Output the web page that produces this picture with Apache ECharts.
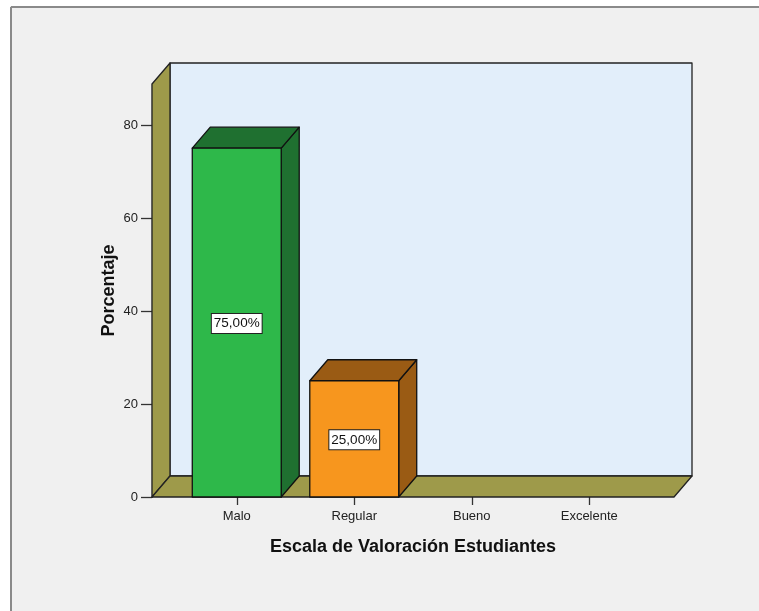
<!DOCTYPE html>
<html>
<head>
<meta charset="utf-8">
<script src="https://cdn.jsdelivr.net/npm/echarts@6/dist/echarts.min.js"></script>
<style>
  html, body { margin: 0; padding: 0; background: #ffffff; }
  #chart { width: 759px; height: 611px; }
</style>
</head>
<body>
<div id="chart"></div>
<script>
// datos
var categorias = ['Malo', 'Regular', 'Bueno', 'Excelente'];
var porcentajes = [75, 25, 0, 0];
var ticksY = [0, 20, 40, 60, 80];

var frente = ['#2eb84a', '#f7961e'];
var oscuro = ['#1f7030', '#9a5b14'];

// profundidad del efecto 3D
var DX = 18, DY = -21;

var chart = echarts.init(document.getElementById('chart'));

function paredes(params, api) {
    var cs = params.coordSys;
    var y0 = api.coord([0, 0])[1];
    var yTop = cs.y;
    var x0 = cs.x - 26;
    var x1 = cs.x + cs.width + 26;
    var linea = { stroke: '#222', lineWidth: 1.3, lineJoin: 'round' };
    return {
        type: 'group',
        children: [
            { type: 'rect', shape: { x: x0 + DX, y: yTop + DY, width: x1 - x0, height: y0 - yTop },
              style: Object.assign({ fill: '#e2eefa' }, linea) },
            { type: 'polygon', shape: { points: [[x0, y0], [x0, yTop], [x0 + DX, yTop + DY], [x0 + DX, y0 + DY]] },
              style: Object.assign({ fill: '#9e9a4a' }, linea) },
            { type: 'polygon', shape: { points: [[x0, y0], [x1, y0], [x1 + DX, y0 + DY], [x0 + DX, y0 + DY]] },
              style: Object.assign({ fill: '#9e9a4a' }, linea) }
        ]
    };
}

function barra3d(params, api) {
    var i = api.value(0);
    var v = api.value(1);
    if (!v) return null;
    var base = api.coord([i, 0]);
    var tope = api.coord([i, v]);
    var w = api.size([1, 0])[0] * 0.757;
    var xl = base[0] - w / 2, xr = base[0] + w / 2;
    var yb = base[1], yt = tope[1];
    var linea = { stroke: '#111', lineWidth: 1.3, lineJoin: 'round' };
    var mid = api.coord([i, v / 2]);
    var txt = v.toFixed(2).replace('.', ',') + '%';
    return {
        type: 'group',
        children: [
            { type: 'polygon', shape: { points: [[xr, yb], [xr, yt], [xr + DX, yt + DY], [xr + DX, yb + DY]] },
              style: Object.assign({ fill: oscuro[i] }, linea) },
            { type: 'polygon', shape: { points: [[xl, yt], [xr, yt], [xr + DX, yt + DY], [xl + DX, yt + DY]] },
              style: Object.assign({ fill: oscuro[i] }, linea) },
            { type: 'rect', shape: { x: xl, y: yt, width: w, height: yb - yt },
              style: Object.assign({ fill: frente[i] }, linea) },
            { type: 'text', x: mid[0], y: mid[1] + 1,
              style: { text: txt, fill: '#111', font: '13.5px "Liberation Sans", Arial, sans-serif',
                       align: 'center', verticalAlign: 'middle',
                       backgroundColor: '#ffffff', borderColor: '#222', borderWidth: 1,
                       padding: [3, 2, 2, 2] } }
        ]
    };
}

var option = {
    backgroundColor: '#f0f0f0',
    animation: false,
    graphic: [
        { type: 'rect', left: 0, top: 0, shape: { width: 10, height: 611 }, style: { fill: '#ffffff' }, z: -1 },
        { type: 'rect', left: 0, top: 0, shape: { width: 759, height: 6 }, style: { fill: '#ffffff' }, z: -1 },
        { type: 'line', shape: { x1: 11, y1: 7, x2: 759, y2: 7 }, style: { stroke: '#8a8a8a', lineWidth: 2 } },
        { type: 'line', shape: { x1: 11, y1: 7, x2: 11, y2: 611 }, style: { stroke: '#8a8a8a', lineWidth: 2 } }
    ],
    grid: { left: 178, right: 111, top: 84, bottom: 114 },
    xAxis: {
        type: 'category',
        data: categorias,
        name: 'Escala de Valoración Estudiantes',
        nameLocation: 'middle',
        nameGap: 41,
        nameMoveOverlap: false,
        nameTextStyle: { fontFamily: 'Liberation Sans', fontWeight: 'bold', fontSize: 18, color: '#111' },
        axisLine: { show: false },
        axisTick: { show: true, alignWithLabel: true, length: 8, lineStyle: { color: '#333', width: 1.3 } },
        axisLabel: { fontFamily: 'Liberation Sans', fontSize: 13, color: '#222', margin: 13 },
        splitLine: { show: false }
    },
    yAxis: {
        type: 'value',
        min: 0,
        max: 88.8,
        interval: 20,
        offset: 26,
        name: 'Porcentaje',
        nameLocation: 'middle',
        nameGap: 34,
        nameMoveOverlap: false,
        nameTextStyle: { fontFamily: 'Liberation Sans', fontWeight: 'bold', fontSize: 18, color: '#111' },
        axisLine: { show: true, lineStyle: { color: '#222', width: 1.3 } },
        axisTick: { show: true, length: 11, customValues: ticksY, lineStyle: { color: '#333', width: 1.3 } },
        axisLabel: { fontFamily: 'Liberation Sans', fontSize: 13, color: '#222', margin: 14, customValues: ticksY },
        splitLine: { show: false }
    },
    series: [
        {
            type: 'custom',
            renderItem: paredes,
            data: [[0, 0]],
            silent: true,
            z: 1
        },
        {
            type: 'custom',
            renderItem: barra3d,
            data: porcentajes.map(function (v, i) { return [i, v]; }),
            encode: { x: 0, y: 1 },
            z: 2
        }
    ]
};

chart.setOption(option);
</script>
</body>
</html>
